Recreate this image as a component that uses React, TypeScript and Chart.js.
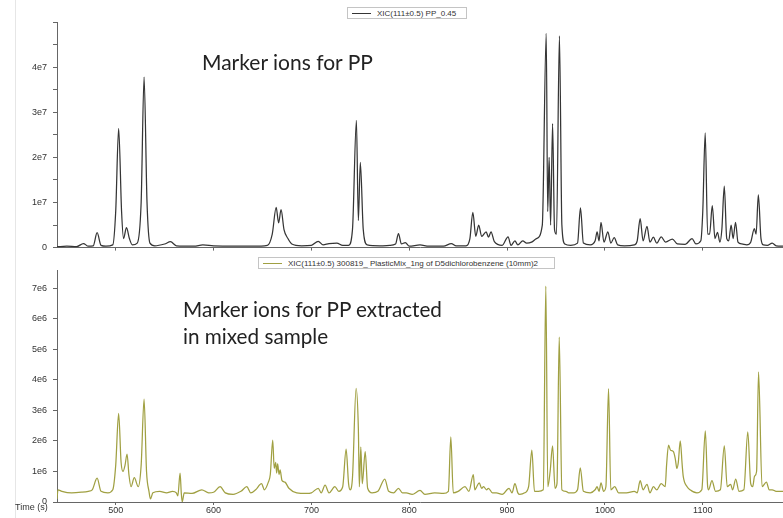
import React, { useEffect, useRef } from 'react';
import { Chart, registerables } from 'chart.js';
Chart.register(...registerables);

// Retention time (s) and intensity (millions of counts)
const topTimes = [440, 450, 460, 467, 472, 477, 481, 485, 490, 497, 500, 503, 506, 508, 511, 514, 517, 522, 526, 529, 532, 535, 540, 550, 556, 562, 580, 589, 600, 620, 640, 655, 660, 664, 666.5, 669, 672, 676, 680, 690, 700, 707, 712, 718, 726, 732, 738, 742, 746, 748, 750, 753, 757, 770, 780, 786, 789, 792, 796, 800, 811, 820, 835, 843, 848, 858, 862, 865, 868, 871, 874, 878.6, 881, 883.6, 887, 895, 901, 904, 908, 911, 916, 920, 925, 930, 936, 940, 941.5, 943, 944.5, 946.5, 948.5, 950.5, 953.5, 956, 959, 965, 972, 975, 978, 985, 990, 992, 994, 996, 999, 1003, 1006, 1009.5, 1013, 1020, 1030, 1033, 1036, 1039, 1043, 1046, 1049.5, 1053, 1057.5, 1062, 1069, 1074, 1082, 1089, 1093, 1098, 1100, 1102.5, 1105, 1107, 1109.7, 1112.5, 1115, 1117.5, 1119.5, 1122, 1124.5, 1126.5, 1129, 1131, 1133.5, 1136, 1140, 1145, 1149, 1152.7, 1154.5, 1156.8, 1159.5, 1162, 1166, 1171, 1175, 1182];
const topSignal = [0.2, 0.3, 0.2, 0.9, 0.3, 0.4, 3.3, 0.5, 0.3, 0.6, 8, 26.4, 8, 2, 4.4, 2, 0.6, 1, 10, 37.8, 10, 1, 0.4, 0.8, 1.3, 0.4, 0.3, 0.6, 0.4, 0.3, 0.3, 0.5, 3, 8.9, 5.5, 8.4, 4, 2, 0.8, 0.4, 0.5, 1.4, 0.6, 0.9, 1.0, 0.5, 0.5, 4, 28.2, 6, 18.9, 4, 0.6, 0.4, 0.5, 0.8, 3.1, 0.8, 1.1, 0.3, 0.6, 0.3, 0.3, 0.9, 0.4, 0.4, 2, 7.8, 2.5, 5, 2.5, 3.5, 2.3, 3.5, 1.3, 0.5, 2.4, 0.5, 1.5, 0.6, 1.5, 1, 1.2, 2, 5, 47.5, 8, 20, 5, 27.5, 4, 3, 46.9, 5, 0.8, 0.5, 1, 8.8, 1, 0.6, 1.5, 3.5, 1.5, 5.6, 1.2, 3.5, 1, 2.2, 0.6, 0.4, 0.6, 1.5, 6.4, 1.5, 4.7, 1.2, 2.3, 1, 2.4, 1.2, 1.9, 0.8, 0.7, 2.0, 0.8, 1.5, 8, 25.4, 3, 3, 9.3, 2, 3.4, 1.2, 4, 13.6, 2, 1.5, 5, 2, 5.6, 1.2, 0.8, 0.6, 1.2, 4.2, 3, 11.7, 2, 0.6, 0.5, 1.0, 0.4, 0.3];

const bottomTimes = [440, 441, 445, 455, 465, 472, 476, 481, 485, 492, 497, 500, 503, 505.5, 507.5, 509.5, 511.6, 513.5, 515.7, 519, 523, 526, 529, 531.5, 534, 535.5, 538, 545, 552, 558, 562, 563.5, 565.8, 567, 568, 570, 578, 588, 595, 600, 606.7, 612, 620, 628, 634, 638, 643, 649, 652, 656, 658, 660.5, 662, 663.5, 664.5, 665.5, 667, 668, 670, 673, 677, 685, 695, 700, 707, 710, 714, 718, 724, 728, 732, 735.5, 738, 739.6, 742, 745.7, 748, 749, 750.5, 752, 755, 757.5, 762, 768, 775, 779, 784, 789, 793, 797, 803, 811, 816, 826, 835, 840, 842.5, 845, 850, 857, 861, 865.5, 867, 869, 871.5, 874, 876, 879, 881, 885, 889, 895, 902, 905, 908, 911, 913, 918, 922, 925.3, 928, 932, 937, 939.6, 941.6, 944, 946.5, 949, 951, 953.3, 956, 960, 963, 968, 972, 974.8, 978, 985, 990, 992, 994, 996, 998.6, 1001, 1003.7, 1006, 1010, 1014, 1022, 1030, 1033, 1036, 1039, 1043, 1046, 1049.6, 1053, 1057.5, 1061.6, 1063, 1065, 1067, 1070, 1072, 1073.5, 1075, 1077, 1079, 1080, 1084, 1087, 1094, 1099, 1102.6, 1105, 1106, 1109.4, 1113, 1118, 1122, 1125, 1128.5, 1130.5, 1133.7, 1137, 1142, 1146, 1149, 1151, 1153, 1155, 1157, 1160.6, 1165, 1168, 1171, 1175, 1182];
const bottomSignal = [0.1, 0.4, 0.35, 0.3, 0.32, 0.35, 0.4, 0.78, 0.35, 0.3, 0.4, 1.2, 2.9, 1.3, 1.0, 1.2, 1.57, 0.9, 0.5, 0.8, 0.5, 1.2, 3.37, 1.0, 0.35, 0.1, 0.3, 0.35, 0.3, 0.35, 0.3, 0.2, 0.95, 0.3, 0.0, 0.3, 0.28, 0.4, 0.3, 0.32, 0.5, 0.3, 0.25, 0.35, 0.5, 0.3, 0.4, 0.6, 0.4, 0.65, 0.9, 2.03, 1.1, 1.3, 0.95, 1.25, 0.9, 1.05, 0.7, 0.65, 0.45, 0.3, 0.28, 0.3, 0.45, 0.3, 0.55, 0.3, 0.5, 0.35, 0.5, 1.73, 0.6, 0.4, 0.8, 3.72, 2.4, 0.5, 1.8, 0.6, 1.65, 0.45, 0.3, 0.35, 0.75, 0.35, 0.3, 0.45, 0.3, 0.3, 0.25, 0.38, 0.25, 0.3, 0.28, 0.35, 2.13, 0.3, 0.35, 0.5, 0.35, 0.9, 0.4, 0.5, 0.63, 0.45, 0.5, 0.4, 0.45, 0.3, 0.3, 0.25, 0.45, 0.3, 0.6, 0.3, 0.25, 0.3, 0.5, 1.7, 0.35, 0.35, 0.4, 7.07, 0.5, 1.0, 1.84, 0.45, 0.6, 5.4, 0.4, 0.35, 0.3, 0.3, 0.4, 1.12, 0.35, 0.3, 0.4, 0.5, 0.35, 0.63, 0.35, 0.5, 3.71, 0.4, 0.5, 0.3, 0.3, 0.35, 0.3, 0.7, 0.4, 0.58, 0.3, 0.5, 0.4, 0.6, 0.5, 1.2, 1.86, 1.7, 1.65, 1.4, 1.1, 1.3, 2.0, 1.2, 0.85, 0.5, 0.4, 0.3, 0.4, 2.33, 0.5, 0.4, 0.7, 0.35, 0.4, 1.84, 0.5, 0.58, 0.4, 0.75, 0.35, 0.4, 2.3, 0.6, 0.5, 0.85, 1.0, 4.26, 0.5, 0.65, 0.4, 0.4, 0.35, 0.35];

const xTickValues = [500, 600, 700, 800, 900, 1000, 1100];
const topYLabelValues = [0, 1e7, 2e7, 3e7, 4e7];
const bottomYLabelValues = [0, 1e6, 2e6, 3e6, 4e6, 5e6, 6e6, 7e6];

const topLegendLabel = 'XIC(111±0.5) PP_0.45';
const bottomLegendLabel = 'XIC(111±0.5) 300819_ PlasticMix_1ng of D5dichlorobenzene (10mm)2';
const topNote = 'Marker ions for PP';
const bottomNote = ['Marker ions for PP extracted', 'in mixed sample'];
const xAxisTitle = 'Time (s)';

const TOP_COLOR = '#353535';
const BOTTOM_COLOR = '#a0a042';
const AXIS_COLOR = '#666';
const TICK_FONT = { family: 'Liberation Sans', size: 9 };

function makeChart(canvas: HTMLCanvasElement, cfg: {
  times: number[]; values: number[]; color: string; yMax: number; yStep: number;
  labelValues: number[]; exp: string; unit: number; topPad: number; xLabels: boolean; xHeight: number;
}) {
  const data = cfg.times.map((t, i) => ({ x: t, y: cfg.values[i] * 1e6 }));
  return new Chart(canvas, {
    type: 'line',
    data: {
      datasets: [{
        data,
        borderColor: cfg.color,
        borderWidth: 1.25,
        pointRadius: 0,
        cubicInterpolationMode: 'monotone',
        fill: false,
      }],
    },
    options: {
      responsive: false,
      animation: false,
      maintainAspectRatio: false,
      layout: { padding: { top: cfg.topPad, left: 0, right: 0, bottom: 0 } },
      plugins: { legend: { display: false }, tooltip: { enabled: false } },
      scales: {
        x: {
          type: 'linear',
          min: 440,
          max: 1182,
          afterBuildTicks: (scale: any) => {
            scale.ticks = xTickValues.map((v) => ({ value: v }));
          },
          afterFit: (scale: any) => { scale.height = cfg.xHeight; },
          ticks: {
            display: cfg.xLabels,
            color: '#333',
            font: TICK_FONT,
            padding: 0,
            maxRotation: 0,
            autoSkip: false,
            callback: (v: any) => String(v),
          },
          grid: { display: true, drawOnChartArea: false, drawTicks: true, tickLength: 3, color: AXIS_COLOR },
          border: { display: true, color: AXIS_COLOR, width: 1 },
        },
        y: {
          type: 'linear',
          min: 0,
          max: cfg.yMax,
          afterBuildTicks: (scale: any) => {
            const ticks: any[] = [];
            for (let v = 0; v <= cfg.yMax + 1; v += cfg.yStep) ticks.push({ value: v });
            scale.ticks = ticks;
          },
          afterFit: (scale: any) => { scale.width = 57; },
          ticks: {
            color: '#333',
            font: TICK_FONT,
            padding: 6,
            autoSkip: false,
            callback: (v: any) => {
              const n = Number(v);
              if (!cfg.labelValues.some((l) => Math.abs(l - n) < 1)) return '';
              if (n === 0) return '0';
              return `${Math.round(n / cfg.unit)}${cfg.exp}`;
            },
          },
          grid: { display: true, drawOnChartArea: false, drawTicks: true, tickLength: 4, color: AXIS_COLOR },
          border: { display: true, color: AXIS_COLOR, width: 1 },
        },
      },
    },
  } as any);
}

export default function App() {
  const topRef = useRef<HTMLCanvasElement>(null);
  const botRef = useRef<HTMLCanvasElement>(null);

  useEffect(() => {
    const c1 = makeChart(topRef.current!, {
      times: topTimes, values: topSignal, color: TOP_COLOR, yMax: 5e7, yStep: 5e6,
      labelValues: topYLabelValues, exp: 'e7', unit: 1e7, topPad: 22, xLabels: false, xHeight: 4,
    });
    const c2 = makeChart(botRef.current!, {
      times: bottomTimes, values: bottomSignal, color: BOTTOM_COLOR, yMax: 7.6e6, yStep: 1e6,
      labelValues: bottomYLabelValues, exp: 'e6', unit: 1e6, topPad: 15, xLabels: true, xHeight: 16,
    });
    return () => { c1.destroy(); c2.destroy(); };
  }, []);

  const legendBox: React.CSSProperties = {
    position: 'absolute', height: 12, border: '1px solid #c4c4c4', background: '#fff',
    display: 'flex', alignItems: 'center', fontFamily: 'Liberation Sans, sans-serif',
    fontSize: 8, color: '#333', whiteSpace: 'nowrap', boxSizing: 'border-box', padding: '0 4px',
  };
  const noteStyle: React.CSSProperties = {
    position: 'absolute', fontFamily: 'Lato, sans-serif', fontSize: 21, color: '#222',
    lineHeight: '27px', whiteSpace: 'nowrap',
  };

  return (
    <div style={{ position: 'absolute', left: 0, top: 0, width: 783, height: 518, background: '#fff', overflow: 'hidden' }}>
      <div style={{ position: 'absolute', left: 15, top: 0, width: 1, height: 518, background: '#e6e6e6' }} />
      <canvas ref={botRef} width={783} height={263} style={{ position: 'absolute', left: 0, top: 255 }} />
      <canvas ref={topRef} width={783} height={259} style={{ position: 'absolute', left: 0, top: 0 }} />
      <div style={{ ...legendBox, left: 347, top: 7, width: 120 }}>
        <span style={{ display: 'inline-block', width: 19, height: 1, background: TOP_COLOR, marginRight: 6 }} />
        {topLegendLabel}
      </div>
      <div style={{ ...legendBox, left: 258, top: 257, width: 297 }}>
        <span style={{ display: 'inline-block', width: 19, height: 1, background: BOTTOM_COLOR, marginRight: 6 }} />
        {bottomLegendLabel}
      </div>
      <div style={{ ...noteStyle, left: 202, top: 48 }}>{topNote}</div>
      <div style={{ ...noteStyle, left: 183, top: 296, fontSize: 20.7 }}>
        {bottomNote[0]}<br />{bottomNote[1]}
      </div>
      <div style={{ position: 'absolute', left: 15, top: 502, fontFamily: 'Liberation Sans, sans-serif', fontSize: 9, color: '#333' }}>
        {xAxisTitle}
      </div>
    </div>
  );
}
